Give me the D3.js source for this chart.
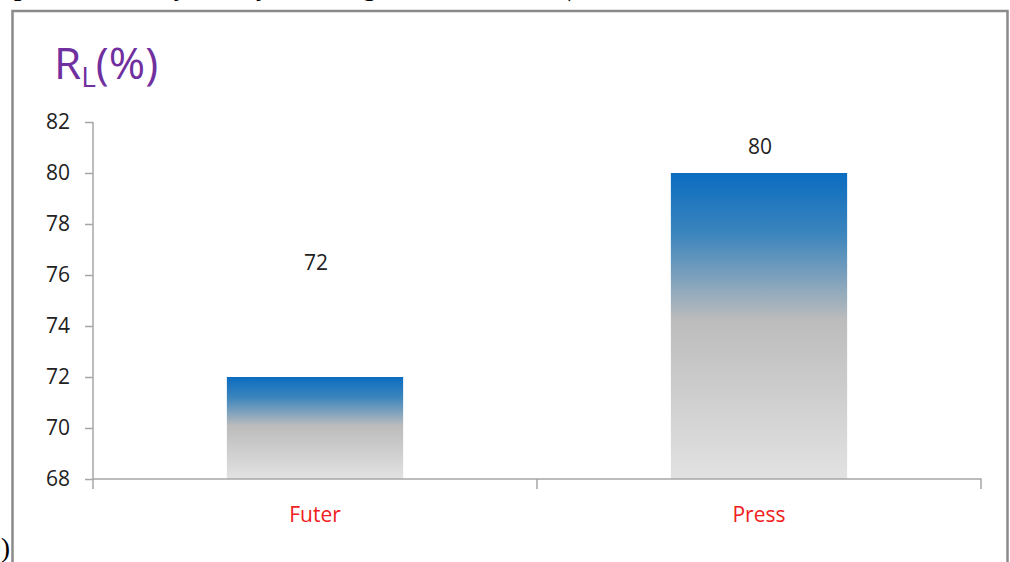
<!DOCTYPE html>
<html>
<head>
<meta charset="utf-8">
<script src="https://cdn.jsdelivr.net/npm/d3@7"></script>
<style>
  html, body { margin: 0; padding: 0; background: #fff; overflow: hidden; }
  svg { display: block; }
</style>
</head>
<body>
<svg id="chart" width="1010" height="562"></svg>
<script>
// data
const categories = ["Futer", "Press"];
const values = [72, 80];
const yTicks = [68, 70, 72, 74, 76, 78, 80, 82];

const svg = d3.select("#chart");
const W = 1010, H = 562;

// bits of the surrounding document (cut off by the crop)
const serif = "'Liberation Serif', 'DejaVu Serif', serif";
svg.append("text")
  .attr("x", 14).attr("y", -4)
  .attr("font-family", serif).attr("font-size", 26).attr("font-weight", "bold")
  .attr("fill", "#000")
  .text("pes     of the study and      by      the  using      and      the   method (");
svg.append("text")
  .attr("x", 10).attr("y", 557)
  .attr("text-anchor", "end")
  .attr("font-family", serif).attr("font-size", 28)
  .attr("fill", "#000")
  .text("0)");

// chart frame (bottom edge runs off the picture)
svg.append("rect")
  .attr("x", 12.5).attr("y", 11).attr("width", 995).attr("height", 570)
  .attr("fill", "#fff")
  .attr("stroke", "#8a8a8a").attr("stroke-width", 2.5);

const margin = {left: 93, right: 1010 - 981, top: 122, bottom: 562 - 479};

const x = d3.scaleBand()
  .domain(categories)
  .range([margin.left, W - margin.right])
  .padding(0);

const y = d3.scaleLinear()
  .domain([68, 82])
  .range([H - margin.bottom, margin.top]);

// gradient for the bars: blue top fading to light grey
const defs = svg.append("defs");
const grad = defs.append("linearGradient")
  .attr("id", "barGrad")
  .attr("x1", 0).attr("y1", 0).attr("x2", 0).attr("y2", 1);
grad.append("stop").attr("offset", "0%").attr("stop-color", "#0a6cc0");
grad.append("stop").attr("offset", "20%").attr("stop-color", "#3c85bd");
grad.append("stop").attr("offset", "48%").attr("stop-color", "#bcbcbc");
grad.append("stop").attr("offset", "100%").attr("stop-color", "#e2e2e2");

const axisFont = "'Open Sans', 'DejaVu Sans', sans-serif";
const axisColor = "#a6a6a6";

// y axis
const yAxis = svg.append("g")
  .attr("transform", `translate(${margin.left},0)`)
  .call(d3.axisLeft(y).tickValues(yTicks).tickSize(8).tickPadding(15).tickFormat(d3.format("d")));
yAxis.select(".domain").attr("stroke", axisColor).attr("stroke-width", 1.5)
  .attr("d", `M0,${y(82)}V${y(68) + 10}`);
yAxis.selectAll(".tick line").attr("stroke", axisColor).attr("stroke-width", 1.5);
yAxis.selectAll(".tick text")
  .attr("font-family", axisFont).attr("font-size", 21).attr("fill", "#222");

// bars
const barW = x.bandwidth() * 0.397;
svg.append("g")
  .selectAll("rect")
  .data(categories)
  .join("rect")
  .attr("x", d => x(d) + (x.bandwidth() - barW) / 2)
  .attr("y", (d, i) => y(values[i]))
  .attr("width", barW)
  .attr("height", (d, i) => y(68) - y(values[i]))
  .attr("fill", "url(#barGrad)");

// x axis
const xAxis = svg.append("g")
  .attr("transform", `translate(0,${y(68)})`)
  .call(d3.axisBottom(x).tickSize(0).tickFormat(""));
xAxis.select(".domain").attr("stroke", axisColor).attr("stroke-width", 1.5)
  .attr("d", `M${margin.left},0H${W - margin.right}V10`);
xAxis.selectAll(".tick").remove();
// category separators
xAxis.selectAll("line.sep")
  .data(categories.slice(1))
  .join("line")
  .attr("class", "sep")
  .attr("x1", d => x(d)).attr("x2", d => x(d))
  .attr("y1", 0).attr("y2", 10)
  .attr("stroke", axisColor).attr("stroke-width", 1.5);

// category labels
svg.append("g")
  .selectAll("text")
  .data(categories)
  .join("text")
  .attr("x", d => x(d) + x.bandwidth() / 2)
  .attr("y", y(68) + 43)
  .attr("text-anchor", "middle")
  .attr("font-family", axisFont).attr("font-size", 21)
  .attr("fill", "#f02020")
  .text(d => d);

// value labels (Excel left the first one floating higher up)
const labelNudge = [114, 26];
svg.append("g")
  .selectAll("text")
  .data(values)
  .join("text")
  .attr("x", (d, i) => x(categories[i]) + x.bandwidth() / 2 + 1)
  .attr("y", (d, i) => y(d) - labelNudge[i] + 7)
  .attr("text-anchor", "middle")
  .attr("font-family", axisFont).attr("font-size", 21)
  .attr("fill", "#222")
  .text(d => d);

// axis title R_L(%)
const title = svg.append("text")
  .attr("x", 54).attr("y", 79)
  .attr("font-family", "'Liberation Sans Narrow', 'Open Sans', sans-serif")
  .attr("font-size", 44)
  .attr("fill", "#7030a0");
title.append("tspan").text("R");
title.append("tspan").attr("font-size", 28).attr("dy", 8).text("L");
title.append("tspan").attr("dy", -8).text("(%)");
</script>
</body>
</html>
